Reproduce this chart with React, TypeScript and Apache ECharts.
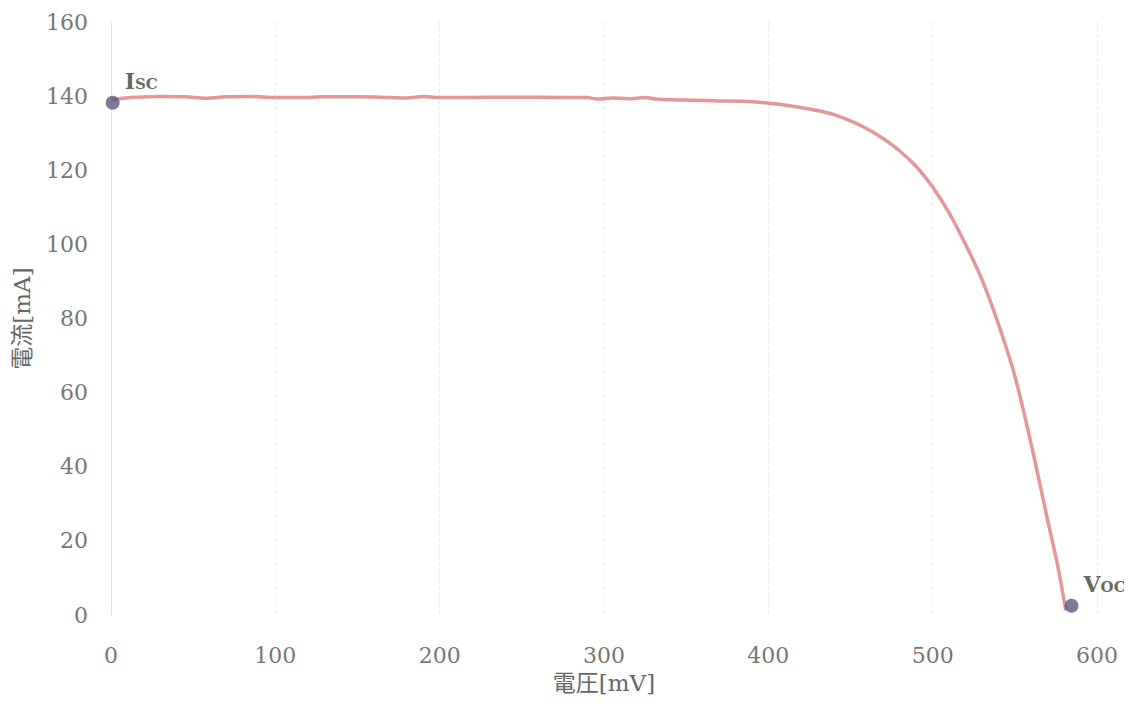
import React, { useEffect, useRef } from "react";
import * as echarts from "echarts";

const voltage = [0, 5, 15, 30, 45, 58, 70, 85, 100, 115, 130, 150, 170, 180, 190, 200, 230, 260, 290, 296, 305, 315, 325, 332, 340, 355, 370, 385, 400, 410, 420, 430, 440, 450, 460, 470, 480, 490, 500, 510, 520, 530, 540, 550, 560, 570, 576, 581];
const current = [138.9, 139.3, 139.7, 139.9, 139.8, 139.4, 139.8, 139.9, 139.6, 139.6, 139.8, 139.8, 139.6, 139.5, 139.9, 139.6, 139.7, 139.7, 139.6, 139.2, 139.5, 139.3, 139.6, 139.2, 139.0, 138.9, 138.7, 138.6, 138.1, 137.6, 136.9, 136.1, 135.0, 133.3, 131.2, 128.5, 125.2, 121.0, 115.5, 108.5, 100.0, 90.5, 78.5, 64.5, 46.0, 25.5, 13.5, 1.2];

const keyNames = ["{b|I}{s|SC}", "{b|V}{s|OC}"];
const keyVoltage = [1, 584.5];
const keyCurrent = [138.2, 2.5];

const xTicks = [0, 100, 200, 300, 400, 500, 600];
const yTicks = [0, 20, 40, 60, 80, 100, 120, 140, 160];

const FONT = "'DejaVu Serif', 'Noto Sans CJK JP', serif";

export default function App() {
  const ref = useRef<HTMLDivElement>(null);
  useEffect(() => {
    if (!ref.current) return;
    const chart = echarts.init(ref.current, null, { renderer: "svg" });
    const lineData = voltage.map((v, i) => [v, current[i]]);
    const keyData = keyVoltage.map((v, i) => ({ value: [v, keyCurrent[i]], name: keyNames[i] }));
    chart.setOption({
      animation: false,
      backgroundColor: "#ffffff",
      grid: { left: 111, right: 35, top: 22, bottom: 91 },
      xAxis: {
        type: "value",
        min: xTicks[0],
        max: xTicks[xTicks.length - 1],
        interval: 100,
        name: "電圧[mV]",
        nameLocation: "middle",
        nameGap: 56,
        nameTextStyle: { fontFamily: FONT, fontSize: 23, color: "#666" },
        axisLine: { show: false },
        axisTick: { show: false },
        axisLabel: { fontFamily: FONT, fontSize: 22, color: "#777", margin: 29 },
        splitLine: { show: true, lineStyle: { color: "#ececec", type: "dashed", width: 1 } },
      },
      yAxis: {
        type: "value",
        min: yTicks[0],
        max: yTicks[yTicks.length - 1],
        interval: 20,
        name: "電流[mA]",
        nameLocation: "middle",
        nameGap: 78,
        nameRotate: 90,
        nameTextStyle: { fontFamily: FONT, fontSize: 23, color: "#666" },
        axisLine: { show: true, lineStyle: { color: "#e2e2e2", width: 1 } },
        axisTick: { show: false },
        axisLabel: { fontFamily: FONT, fontSize: 22, color: "#777", margin: 23 },
        splitLine: { show: false },
      },
      series: [
        {
          type: "line",
          data: lineData,
          smooth: 0.3,
          showSymbol: false,
          lineStyle: { color: "#e3979a", width: 3.5 },
          z: 2,
        },
        {
          type: "scatter",
          data: keyData,
          symbolSize: 14,
          itemStyle: { color: "#5b5880" },
          z: 3,
          label: {
            show: true,
            position: [19, -30],
            formatter: (p: any) => p.name,
            rich: {
              b: { fontFamily: FONT, fontSize: 22, fontWeight: "bold", color: "#3f3f30", verticalAlign: "bottom", lineHeight: 26 },
              s: { fontFamily: FONT, fontSize: 15, fontWeight: "bold", color: "#3f3f30", verticalAlign: "bottom", lineHeight: 26, padding: [9, 0, 0, 0] },
            },
          },
        },
      ],
    });
    return () => chart.dispose();
  }, []);
  return <div ref={ref} style={{ width: 1132, height: 706, margin: -8 }} />;
}
